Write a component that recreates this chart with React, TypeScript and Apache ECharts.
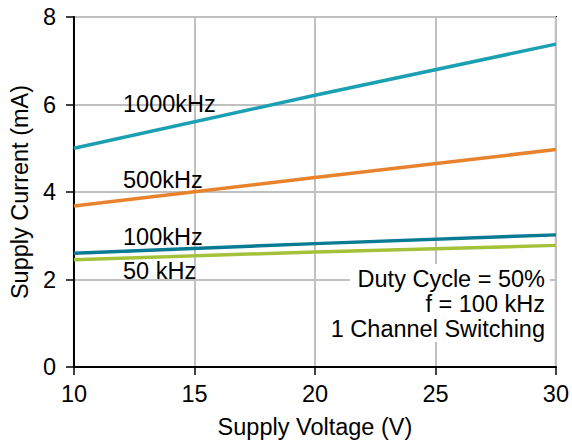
import React, { useEffect, useRef } from "react";
import * as echarts from "echarts";

const voltages = [10, 20, 30];
const s1000 = [5.0, 6.21, 7.38];
const s500 = [3.68, 4.33, 4.97];
const s100 = [2.6, 2.82, 3.02];
const s50 = [2.45, 2.63, 2.78];
const seriesNames = ["1000kHz", "500kHz", "100kHz", "50 kHz"];
const seriesColors = ["#1aa0b2", "#e8822c", "#087a94", "#a3c23a"];
const noteLines = ["Duty Cycle = 50%", "f = 100 kHz", "1 Channel Switching"];

const FONT = "'Liberation Sans', Arial, sans-serif";
const FS = 23.5;

export default function App() {
  const ref = useRef<HTMLDivElement>(null);
  useEffect(() => {
    if (!ref.current) return;
    const chart = echarts.init(ref.current, undefined, { renderer: "svg" });
    const all = [s1000, s500, s100, s50];
    const labelPos = [
      { x: 123, y: 104 },
      { x: 123, y: 180 },
      { x: 123, y: 237 },
      { x: 123, y: 271 },
    ];
    chart.setOption({
      animation: false,
      textStyle: { fontFamily: FONT },
      grid: { left: 73, right: 15, top: 17, bottom: 76, show: true, borderColor: "#000", borderWidth: 2, containLabel: false },
      xAxis: {
        type: "value",
        min: 10,
        max: 30,
        interval: 5,
        name: "Supply Voltage (V)",
        nameLocation: "middle",
        nameGap: 48,
        nameTextStyle: { fontSize: FS, color: "#000", fontFamily: FONT },
        axisLine: { show: true, lineStyle: { color: "#000", width: 2 } },
        axisTick: { show: true, length: 8, lineStyle: { color: "#000", width: 1.5 } },
        axisLabel: { fontSize: FS, color: "#000", fontFamily: FONT, margin: 15 },
        splitLine: { show: true, lineStyle: { color: "#c0c0c0", width: 2 } },
      },
      yAxis: {
        type: "value",
        min: 0,
        max: 8,
        interval: 2,
        name: "Supply Current (mA)",
        nameLocation: "middle",
        nameGap: 40,
        nameTextStyle: { fontSize: FS, color: "#000", fontFamily: FONT },
        axisLine: { show: true, lineStyle: { color: "#000", width: 2 } },
        axisTick: { show: true, length: 8, lineStyle: { color: "#000", width: 1.5 } },
        axisLabel: { fontSize: FS, color: "#000", fontFamily: FONT, margin: 18 },
        splitLine: { show: true, lineStyle: { color: "#c0c0c0", width: 2 } },
      },
      series: all.map((vals, i) => ({
        type: "line",
        name: seriesNames[i],
        data: voltages.map((v, j) => [v, vals[j]]),
        showSymbol: false,
        lineStyle: { color: seriesColors[i], width: 3.5 },
        itemStyle: { color: seriesColors[i] },
        z: 10 - i,
      })),
      graphic: [
        ...seriesNames.map((n, i) => ({
          type: "text",
          x: labelPos[i].x,
          y: labelPos[i].y,
          z: 100,
          style: { text: n, fill: "#000", font: `${FS}px ${FONT}`, align: "left", verticalAlign: "middle" },
        })),
        {
          type: "rect",
          shape: { x: 350, y: 264, width: 200, height: 78 },
          style: { fill: "#fff" },
          z: 90,
        },
        ...noteLines.map((t, i) => ({
          type: "text",
          x: 545,
          y: 279 + i * 25,
          z: 100,
          style: { text: t, fill: "#000", font: `${FS}px ${FONT}`, align: "right", verticalAlign: "middle" },
        })),
      ],
    });
    return () => chart.dispose();
  }, []);
  return <div ref={ref} style={{ width: 572, height: 444, position: "absolute", left: 0, top: 0, background: "#fff" }} />;
}
